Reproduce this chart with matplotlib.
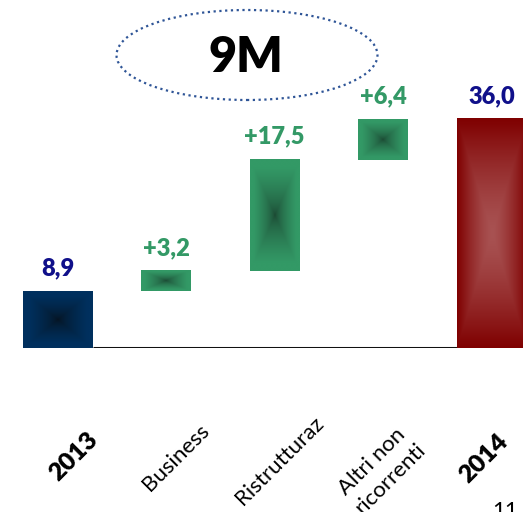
import numpy as np
import matplotlib
matplotlib.use('Agg')
import matplotlib.pyplot as plt
from matplotlib.patches import Ellipse
from matplotlib.colors import to_rgb

plt.rcParams['font.family'] = ['Lato', 'DejaVu Sans']

# waterfall data (EUR m, 9 months)
categories = ['2013', 'Business', 'Ristrutturaz', 'Altri non\nricorrenti', '2014']
values = [8.9, 3.2, 17.5, 6.4, 36.0]
is_total = [True, False, False, False, True]
value_labels = ['8,9', '+3,2', '+17,5', '+6,4', '36,0']

# label offsets under each bar (pixels)
cat_offsets = [(16, -109), (10, -110), (5, -113), (-2, -122), (-8, -110)]

W, H = 523, 512
fig = plt.figure(figsize=(W / 100, H / 100), dpi=100)
ax = fig.add_axes([0, 164 / H, 1, 348 / H])


def grad_bar(x0, x1, y0, y1, c_center, c_edge, reach, power):
    n = 240
    u = np.linspace(-1, 1, n)
    U, V = np.meshgrid(u, u)
    t = np.clip(np.maximum(np.abs(U), np.abs(V)) / reach, 0, 1) ** power
    cc = np.array(to_rgb(c_center))
    ce = np.array(to_rgb(c_edge))
    img = cc * (1 - t)[..., None] + ce * t[..., None]
    ax.imshow(img, extent=(x0, x1, y0, y1), origin='lower', aspect='auto',
              interpolation='bilinear', zorder=2)


running = 0.0
for i, (v, tot) in enumerate(zip(values, is_total)):
    if tot:
        bottom, top = 0.0, v
        running = v
        width = 0.645
        if i == 0:
            grad_bar(i - width / 2, i + width / 2, bottom, top,
                     '#06121e', '#00305e', 0.85, 0.6)
        else:
            grad_bar(i - width / 2, i + width / 2, bottom, top,
                     '#a85252', '#7f0000', 1.0, 1.4)
        lab_color = '#10108a'
    else:
        bottom, top = running, running + v
        running = top
        width = 0.46
        grad_bar(i - width / 2, i + width / 2, bottom, top,
                 '#1a4430', '#339966', 0.85, 0.6)
        lab_color = '#339966'
    ax.annotate(value_labels[i], (i, top), xytext=(0, 11.5), textcoords='offset points',
                ha='center', va='baseline', fontsize=17, fontweight='heavy',
                color=lab_color)

# baseline between the two totals
ax.plot([0 + 0.645 / 2, 4 - 0.645 / 2], [0, 0], color='#111111', lw=2.2, zorder=1,
        solid_capstyle='butt')

for i, (lab, tot) in enumerate(zip(categories, is_total)):
    dx, dy = cat_offsets[i]
    ax.annotate(lab, (i, 0), xytext=(dx * 0.72, dy * 0.72), textcoords='offset points',
                ha='center', va='center', rotation=45, rotation_mode='anchor',
                multialignment='center', linespacing=1.3, annotation_clip=False,
                fontsize=18 if tot else 16, fontweight='heavy' if tot else 'normal',
                color='black')

ax.set_xlim(-0.53, 4.29)
ax.set_ylim(0, 54.7)
ax.axis('off')

# period badge
fig.patches.append(Ellipse((247 / W, 1 - 55 / H), 261 / W, 90 / H,
                           transform=fig.transFigure, fill=False,
                           edgecolor='#2f5597', lw=1.6, linestyle=(0, (1, 1.6))))
fig.text(246 / W, 1 - 57 / H, '9M', ha='center', va='center', fontsize=35,
         fontweight='heavy', color='black')

# page number
fig.text(505 / W, 1 - 511 / H, '11', ha='center', va='center', fontsize=16, color='black')

fig.savefig('out.png', dpi=100)
